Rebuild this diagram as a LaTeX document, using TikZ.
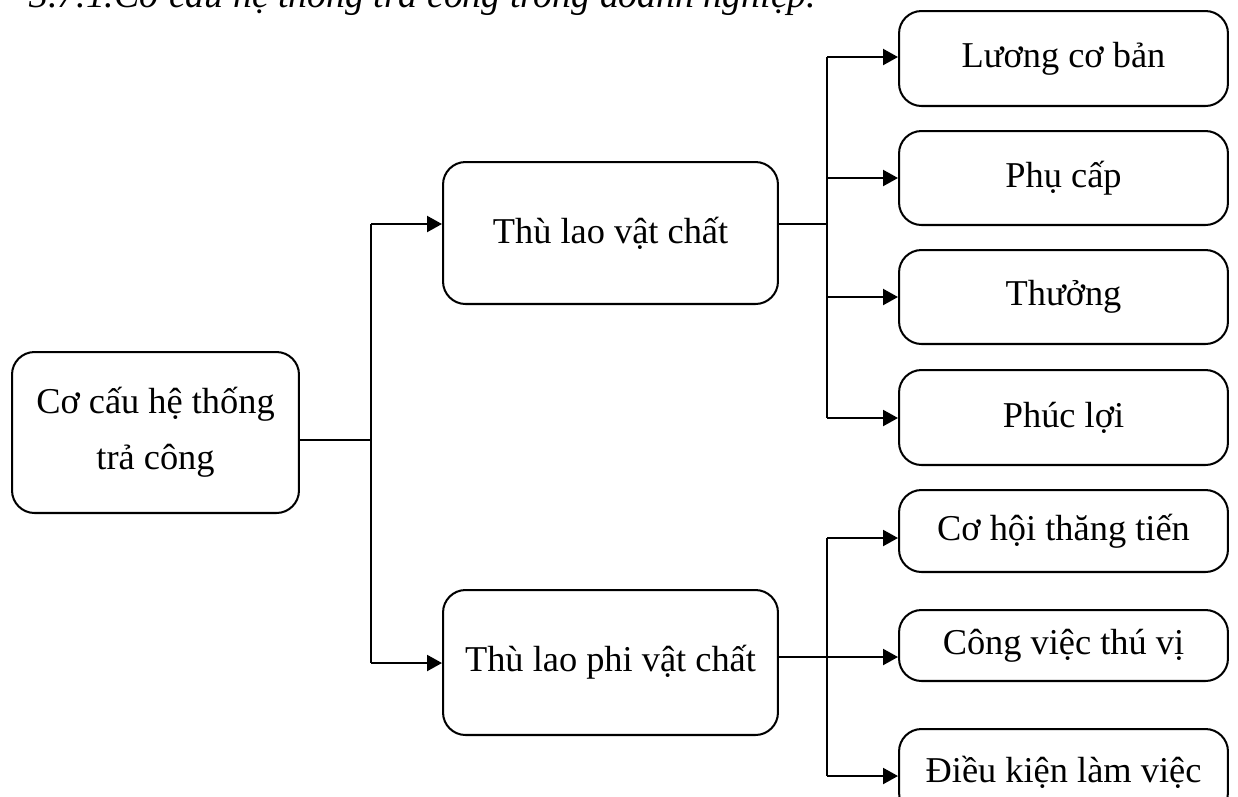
\documentclass[tikz,border=0pt]{standalone}
\usepackage{fontspec}
\setmainfont{Liberation Serif}
\usetikzlibrary{arrows.meta}
\begin{document}
\begin{tikzpicture}[x=0.02cm,y=-0.02cm,
  box/.style={draw,line width=1.15pt,rounded corners=0.45cm,inner sep=0pt,align=center,
    font=\fontsize{20.7}{32}\selectfont},
  rbox/.style={box,minimum width=6.58cm},
  conn/.style={line width=1.45pt},
  arr/.style={conn,-{Triangle[length=8.5pt,width=9pt]}}]
\useasboundingbox (0,0) rectangle (1238,796);
% title (cut off at the top)
\node[anchor=base west,inner sep=0pt,font=\fontsize{21.5}{24}\selectfont\itshape] (title) at (29,7) {3.7.1.Cơ cấu hệ thống trả công trong doanh nghiệp.};
% boxes
\node[box,minimum width=5.74cm,minimum height=3.22cm] (root) at (155.5,432.5) {Cơ cấu hệ thống\\trả công};
\node[box,minimum width=6.7cm,minimum height=2.84cm] (vc) at (610.5,233) {Thù lao vật chất};
\node[box,minimum width=6.7cm,minimum height=2.9cm] (phi) at (610.5,662.5) {Thù lao phi vật chất};
\node[rbox,minimum height=1.9cm] (l1) at (1063.5,58.5) {Lương cơ bản};
\node[rbox,minimum height=1.88cm] (l2) at (1063.5,178) {Phụ cấp};
\node[rbox,minimum height=1.88cm] (l3) at (1063.5,297) {Thưởng};
\node[rbox,minimum height=1.9cm] (l4) at (1063.5,417.5) {Phúc lợi};
\node[rbox,minimum height=1.64cm] (m1) at (1063.5,531) {Cơ hội thăng tiến};
\node[rbox,minimum height=1.42cm] (m2) at (1063.5,645.5) {Công việc thú vị};
\node[rbox,minimum height=1.72cm] (m3) at (1063.5,772) {Điều kiện làm việc};
% junction coordinates
\coordinate (j0) at (371,440);
\coordinate (ja) at (371,224);
\coordinate (jb) at (371,663);
\coordinate (k0) at (827,224);
\coordinate (ka) at (827,57);
\coordinate (kb) at (827,418);
\coordinate (p0) at (827,657);
\coordinate (pa) at (827,538);
\coordinate (pb) at (827,776);
% left connectors
\draw[conn] (root.east |- j0) -- (j0);
\draw[conn] (ja) -- (jb);
\draw[arr] (ja) -- (vc.west |- ja);
\draw[arr] (jb) -- (phi.west |- jb);
% upper right connectors
\draw[conn] (vc.east |- k0) -- (k0);
\draw[conn] (ka) -- (kb);
\draw[arr] (ka) -- (l1.west |- ka);
\draw[arr] (827,178) -- (l2.west);
\draw[arr] (827,297) -- (l3.west);
\draw[arr] (kb) -- (l4.west |- kb);
% lower right connectors
\draw[conn] (phi.east |- p0) -- (p0);
\draw[conn] (pa) -- (pb);
\draw[arr] (pa) -- (m1.west |- pa);
\draw[arr] (p0) -- (m2.west |- p0);
\draw[arr] (pb) -- (m3.west |- pb);
\end{tikzpicture}
\end{document}
